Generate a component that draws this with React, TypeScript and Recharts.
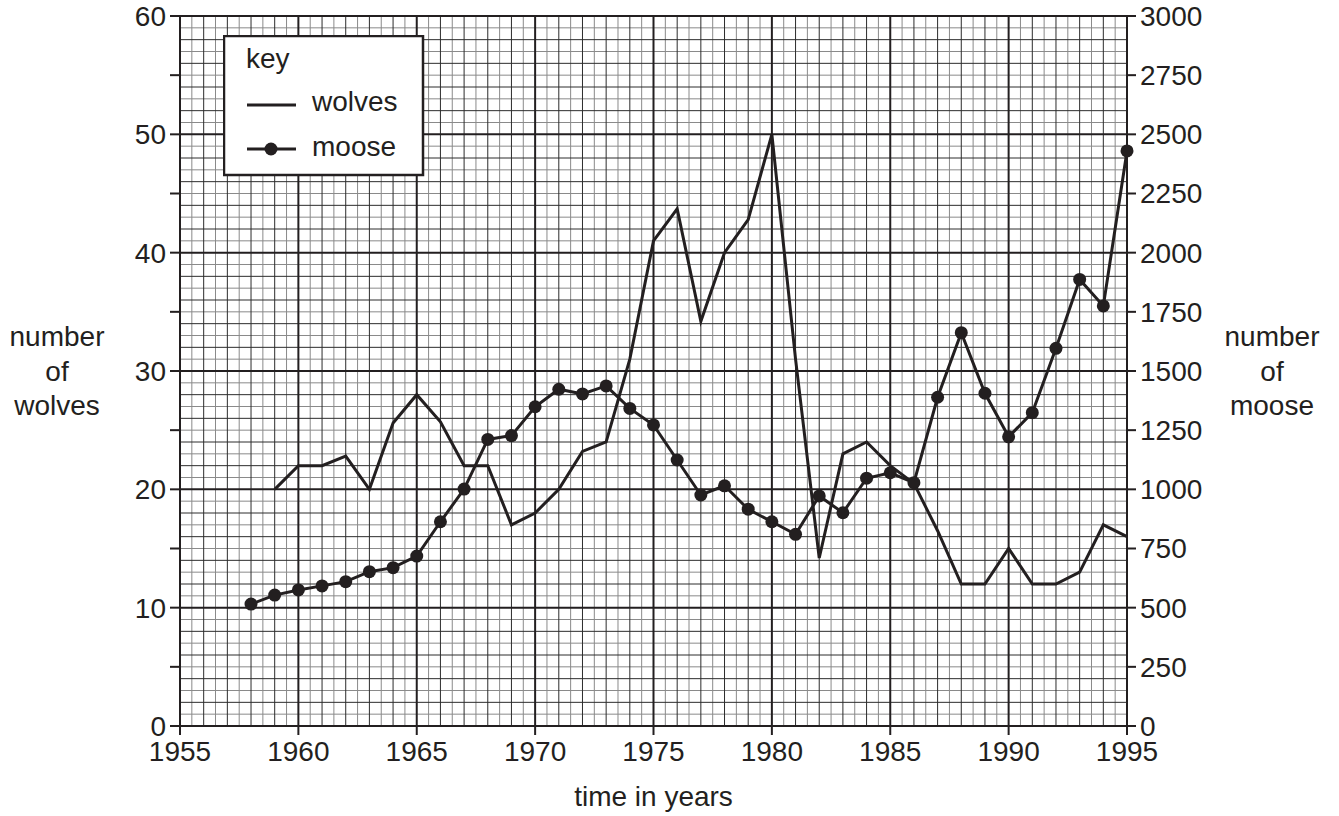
import React from 'react';
import {
  LineChart, Line, XAxis, YAxis, ReferenceLine, Legend,
} from 'recharts';

const INK = '#231f20';
const FONT = '"Liberation Sans", Arial, Helvetica, sans-serif';

// years on the x axis
const moosYears = [
  1958, 1959, 1960, 1961, 1962, 1963, 1964, 1965, 1966, 1967,
  1968, 1969, 1970, 1971, 1972, 1973, 1974, 1975, 1976, 1977,
  1978, 1979, 1980, 1981, 1982, 1983, 1984, 1985, 1986, 1987,
  1988, 1989, 1990, 1991, 1992, 1993, 1994, 1995,
];

// number of moose (right axis), 1958 - 1995
const moose = [
  515, 553, 575, 592, 610, 652, 669, 718, 863, 1001,
  1211, 1227, 1349, 1423, 1403, 1437, 1342, 1272, 1124, 976,
  1015, 916, 863, 810, 972, 901, 1047, 1070, 1028, 1389,
  1662, 1406, 1222, 1324, 1596, 1887, 1775, 2430,
];

// number of wolves (left axis), 1959 - 1995
const wolves = [
  20, 22, 22, 22.8, 20, 25.6, 28, 25.7, 22, 22,
  17, 18, 20, 23.2, 24, 31, 41, 43.7, 34.2, 40,
  42.8, 50, 31, 14.2, 23, 24, 22, 20.5, 16.5, 12,
  12, 15, 12, 12, 13, 17, 16,
];
const wolvesFrom = 1959;

const yearTicks = [1955, 1960, 1965, 1970, 1975, 1980, 1985, 1990, 1995];
const wolfTicks = [0, 5, 10, 15, 20, 25, 30, 35, 40, 45, 50, 55, 60];
const mooseTicks = [0, 250, 500, 750, 1000, 1250, 1500, 1750, 2000, 2250, 2500, 2750, 3000];

const data = moosYears.map((year, i) => ({
  year,
  moose: moose[i],
  wolves: year >= wolvesFrom ? wolves[year - wolvesFrom] : null,
}));

// graph paper: half-year / one-wolf squares, darker every 2, black every major
const range = (a: number, b: number, s: number) => {
  const out: number[] = [];
  for (let v = a; v <= b + 1e-9; v += s) out.push(Math.round(v * 10) / 10);
  return out;
};
const xMinor = range(1955, 1995, 0.5).filter((v) => v % 1 !== 0);
const xMid = range(1955, 1995, 1).filter((v) => v % 5 !== 0);
const xMajor = range(1960, 1990, 5);
const yMinor = range(0, 60, 1).filter((v) => v % 2 !== 0);
const yMid = range(0, 60, 2).filter((v) => v % 10 !== 0);
const yMajor = range(10, 60, 10);

const tickStyle = { fontSize: 28, fontFamily: FONT, fill: INK };

const SideLabel = ({ x, words }: { x: number; words: string[] }) => (
  <text x={x} y={346} textAnchor="middle" fontSize={28} fontFamily={FONT} fill={INK}>
    {words.map((w, i) => (
      <tspan key={w} x={x} dy={i === 0 ? 0 : 34.5}>{w}</tspan>
    ))}
  </text>
);

const KeyBox = () => (
  <svg width={202} height={142} style={{ display: 'block' }}>
    <rect x={1} y={1} width={199} height={139} fill="#fff" stroke={INK} strokeWidth={2.5} />
    <g fontFamily={FONT} fontSize={28} fill={INK}>
      <text x={23} y={33}>key</text>
      <line x1={24} x2={73} y1={70} y2={70} stroke={INK} strokeWidth={3} />
      <text x={89} y={76}>wolves</text>
      <line x1={24} x2={73} y1={114} y2={114} stroke={INK} strokeWidth={3} />
      <circle cx={48} cy={114} r={6.5} fill={INK} />
      <text x={89} y={121}>moose</text>
    </g>
  </svg>
);

export default function App() {
  return (
    <div style={{ position: 'absolute', left: 0, top: 0, background: '#fff' }}>
      <LineChart
        width={1339}
        height={816}
        data={data}
        margin={{ top: 16, right: 0, bottom: 0, left: 0 }}
      >
        <XAxis
          dataKey="year"
          type="number"
          domain={[1955, 1995]}
          ticks={yearTicks}
          height={90}
          tickSize={9}
          tickMargin={6}
          tick={tickStyle}
          axisLine={{ stroke: INK, strokeWidth: 2 }}
          tickLine={{ stroke: INK, strokeWidth: 2 }}
          label={{
            content: () => (
              <text x={653.5} y={806} textAnchor="middle" fontSize={28} fontFamily={FONT} fill={INK}>
                time in years
              </text>
            ),
          }}
        />
        <YAxis
          yAxisId="left"
          domain={[0, 60]}
          ticks={wolfTicks}
          interval={0}
          width={180}
          tickSize={10}
          tickMargin={4}
          tick={tickStyle}
          tickFormatter={(v: number) => (v % 10 === 0 ? String(v) : '')}
          axisLine={{ stroke: INK, strokeWidth: 2 }}
          tickLine={{ stroke: INK, strokeWidth: 2 }}
          label={{ content: () => <SideLabel x={57} words={['number', 'of', 'wolves']} /> }}
        />
        <YAxis
          yAxisId="right"
          orientation="right"
          domain={[0, 3000]}
          ticks={mooseTicks}
          interval={0}
          width={212}
          tickSize={9}
          tickMargin={4}
          tick={tickStyle}
          axisLine={{ stroke: INK, strokeWidth: 2 }}
          tickLine={{ stroke: INK, strokeWidth: 2 }}
          label={{ content: () => <SideLabel x={1272} words={['number', 'of', 'moose']} /> }}
        />

        {xMinor.map((v) => (
          <ReferenceLine key={`xm${v}`} x={v} yAxisId="left" stroke="#8a8a8a" strokeWidth={1} />
        ))}
        {yMinor.map((v) => (
          <ReferenceLine key={`ym${v}`} y={v} yAxisId="left" stroke="#8a8a8a" strokeWidth={1} />
        ))}
        {xMid.map((v) => (
          <ReferenceLine key={`xd${v}`} x={v} yAxisId="left" stroke="#2c2c2c" strokeWidth={1} />
        ))}
        {yMid.map((v) => (
          <ReferenceLine key={`yd${v}`} y={v} yAxisId="left" stroke="#2c2c2c" strokeWidth={1} />
        ))}
        {xMajor.map((v) => (
          <ReferenceLine key={`xM${v}`} x={v} yAxisId="left" stroke={INK} strokeWidth={2} />
        ))}
        {yMajor.map((v) => (
          <ReferenceLine key={`yM${v}`} y={v} yAxisId="left" stroke={INK} strokeWidth={2} />
        ))}

        <Line
          yAxisId="left"
          dataKey="wolves"
          type="linear"
          stroke={INK}
          strokeWidth={3}
          dot={false}
          isAnimationActive={false}
        />
        <Line
          yAxisId="right"
          dataKey="moose"
          type="linear"
          stroke={INK}
          strokeWidth={3}
          dot={{ r: 6.5, fill: INK, stroke: INK, strokeWidth: 0 }}
          isAnimationActive={false}
        />
        <Legend
          layout="vertical"
          align="center"
          verticalAlign="middle"
          content={() => <KeyBox />}
          wrapperStyle={{ left: 223, top: 35, width: 202, height: 142 }}
        />
      </LineChart>
    </div>
  );
}
